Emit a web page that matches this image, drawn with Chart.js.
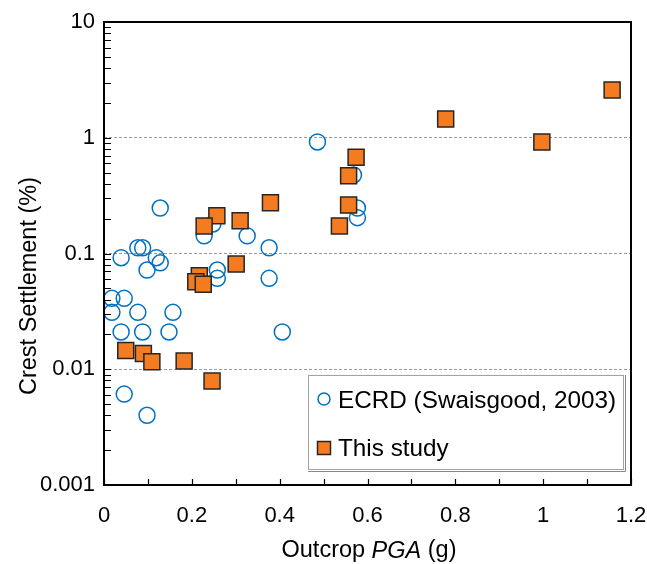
<!DOCTYPE html>
<html>
<head>
<meta charset="utf-8">
<script src="https://cdn.jsdelivr.net/npm/chart.js@4.4.1/dist/chart.umd.min.js"></script>
<style>
    html, body { margin: 0; padding: 0; background: #fff; }
    canvas { display: block; }
</style>
</head>
<body>
<canvas id="mainChart" width="647" height="564"></canvas>
<script>
// ECRD data (Swaisgood, 2003)
const ecrdPGA = [0.018, 0.018, 0.046, 0.039, 0.077, 0.039, 0.088, 0.148, 0.157, 0.406,
    0.376, 0.376, 0.326, 0.258, 0.258, 0.228, 0.248, 0.128, 0.077, 0.088,
    0.119, 0.128, 0.098, 0.046, 0.098, 0.486, 0.568, 0.577, 0.577];
const ecrdSettlement = [0.041, 0.031, 0.041, 0.092, 0.031, 0.021, 0.021, 0.021, 0.031, 0.021,
    0.061, 0.112, 0.142, 0.072, 0.061, 0.142, 0.18, 0.247, 0.112, 0.112,
    0.092, 0.083, 0.072, 0.0061, 0.004, 0.92, 0.477, 0.247, 0.204];

// This study
const studyPGA = [0.379, 0.257, 0.228, 0.310, 0.301, 0.217, 0.209, 0.226, 0.0495, 0.0897,
    0.109, 0.1825, 0.246, 0.574, 0.557, 0.557, 0.536, 0.778, 0.997, 1.157];
const studySettlement = [0.275, 0.212, 0.173, 0.192, 0.081, 0.0643, 0.057, 0.0542, 0.0145, 0.0137,
    0.0116, 0.0118, 0.0079, 0.678, 0.47, 0.262, 0.173, 1.45, 0.92, 2.59];

const seriesNames = ['ECRD (Swaisgood, 2003)', 'This study'];

const xTicks = [0, 0.2, 0.4, 0.6, 0.8, 1, 1.2];
const xMinorTicks = [0.1, 0.3, 0.5, 0.7, 0.9, 1.1];
const yTicks = [0.001, 0.01, 0.1, 1, 10];

const FONT = '"Liberation Sans", Arial, sans-serif';
const BLUE = '#0070C0';
const ORANGE = '#F47B20';

const toPoints = (xs, ys) => xs.map((x, i) => ({ x: x, y: ys[i] }));

// Frame, inner ticks, axis titles and legend
const decorPlugin = {
    id: 'decor',
    afterDraw(chart) {
        const ctx = chart.ctx;
        const { left, right, top, bottom } = chart.chartArea;
        const xs = chart.scales.x;
        const ys = chart.scales.y;
        ctx.save();

        // inner tick marks
        ctx.strokeStyle = '#000';
        ctx.lineWidth = 1.2;
        ctx.beginPath();
        xTicks.concat(xMinorTicks).forEach(v => {
            const px = Math.round(xs.getPixelForValue(v)) + 0.5;
            ctx.moveTo(px, bottom);
            ctx.lineTo(px, bottom - 6);
        });
        for (let d = 0.001; d < 10; d *= 10) {
            for (let m = 1; m <= 9; m++) {
                const py = Math.round(ys.getPixelForValue(d * m)) + 0.5;
                ctx.moveTo(left, py);
                ctx.lineTo(left + 7, py);
            }
        }
        ctx.stroke();

        // plot frame
        ctx.lineWidth = 2;
        ctx.strokeRect(left, top, right - left, bottom - top);

        // y axis title
        ctx.fillStyle = '#000';
        ctx.font = '23.5px ' + FONT;
        ctx.textAlign = 'center';
        ctx.textBaseline = 'middle';
        ctx.save();
        ctx.translate(30, 286);
        ctx.rotate(-Math.PI / 2);
        ctx.fillText('Crest Settlement (%)', 0, 0);
        ctx.restore();

        // x axis title with italic PGA
        const parts = [['Outcrop ', ''], ['PGA', 'italic '], [' (g)', '']];
        let total = 0;
        parts.forEach(p => { ctx.font = p[1] + '23.5px ' + FONT; total += ctx.measureText(p[0]).width; });
        let tx = 369 - total / 2;
        ctx.textAlign = 'left';
        parts.forEach(p => {
            ctx.font = p[1] + '23.5px ' + FONT;
            ctx.fillText(p[0], tx, 551);
            tx += ctx.measureText(p[0]).width;
        });

        // legend box: dotted frame with a thin solid edge at right and bottom
        const lx = 308, ly = 375, lw = 315, lh = 94;
        ctx.fillStyle = '#fff';
        ctx.fillRect(lx, ly, lw + 3, lh + 3);
        ctx.strokeStyle = '#444';
        ctx.lineWidth = 1;
        ctx.setLineDash([1, 1]);
        ctx.strokeRect(lx + 0.5, ly + 0.5, lw, lh);
        ctx.setLineDash([]);
        ctx.strokeStyle = '#888';
        ctx.beginPath();
        ctx.moveTo(lx + lw + 2.5, ly);
        ctx.lineTo(lx + lw + 2.5, ly + lh + 2.5);
        ctx.lineTo(lx, ly + lh + 2.5);
        ctx.stroke();

        // legend entries
        ctx.strokeStyle = BLUE;
        ctx.lineWidth = 1.5;
        ctx.beginPath();
        ctx.arc(324, 399, 6, 0, Math.PI * 2);
        ctx.stroke();
        ctx.fillStyle = ORANGE;
        ctx.fillRect(317.5, 441.5, 13, 13);
        ctx.strokeStyle = '#262626';
        ctx.strokeRect(317.5, 441.5, 13, 13);

        ctx.fillStyle = '#000';
        ctx.font = '24.3px ' + FONT;
        ctx.textAlign = 'left';
        ctx.textBaseline = 'middle';
        ctx.fillText(seriesNames[0], 338, 401);
        ctx.fillText(seriesNames[1], 338, 449);

        ctx.restore();
    }
};

const ctx = document.getElementById('mainChart').getContext('2d');

const chart = new Chart(ctx, {
    type: 'scatter',
    data: {
        datasets: [
            {
                label: seriesNames[0],
                data: toPoints(ecrdPGA, ecrdSettlement),
                pointStyle: 'circle',
                pointRadius: 8,
                borderColor: BLUE,
                borderWidth: 1.5,
                backgroundColor: 'rgba(0,0,0,0)',
                order: 2
            },
            {
                label: seriesNames[1],
                data: toPoints(studyPGA, studySettlement),
                pointStyle: 'rect',
                pointRadius: 11.3,
                borderColor: '#262626',
                borderWidth: 1.5,
                backgroundColor: ORANGE,
                order: 1
            }
        ]
    },
    options: {
        responsive: false,
        devicePixelRatio: 1,
        animation: false,
        events: [],
        layout: { padding: { top: 22, right: 16, left: 0, bottom: 0 } },
        plugins: {
            legend: { display: false },
            tooltip: { enabled: false }
        },
        scales: {
            x: {
                type: 'linear',
                min: 0,
                max: 1.2,
                afterBuildTicks: (scale) => { scale.ticks = xTicks.map(v => ({ value: v })); },
                afterFit: (scale) => {
                    scale.height = 79;
                    scale.paddingLeft = 0;
                    scale.paddingRight = 0;
                },
                grid: { display: false, drawTicks: false },
                border: { display: false },
                ticks: {
                    color: '#000',
                    font: { family: FONT, size: 22 },
                    padding: 18,
                    maxRotation: 0,
                    callback: (v) => String(v)
                }
            },
            y: {
                type: 'logarithmic',
                min: 0.001,
                max: 10,
                afterBuildTicks: (scale) => { scale.ticks = yTicks.map(v => ({ value: v })); },
                afterFit: (scale) => {
                    scale.width = 104;
                    scale.paddingTop = 0;
                    scale.paddingBottom = 0;
                },
                grid: {
                    drawTicks: false,
                    lineWidth: 1,
                    color: (c) => (c.tick && (c.tick.value === 10 || c.tick.value === 0.001)) ? 'rgba(0,0,0,0)' : '#9a9a9a'
                },
                border: { display: false, dash: [3, 2] },
                ticks: {
                    color: '#000',
                    font: { family: FONT, size: 22 },
                    padding: 9,
                    callback: (v) => String(v)
                }
            }
        }
    },
    plugins: [decorPlugin]
});
</script>
</body>
</html>
